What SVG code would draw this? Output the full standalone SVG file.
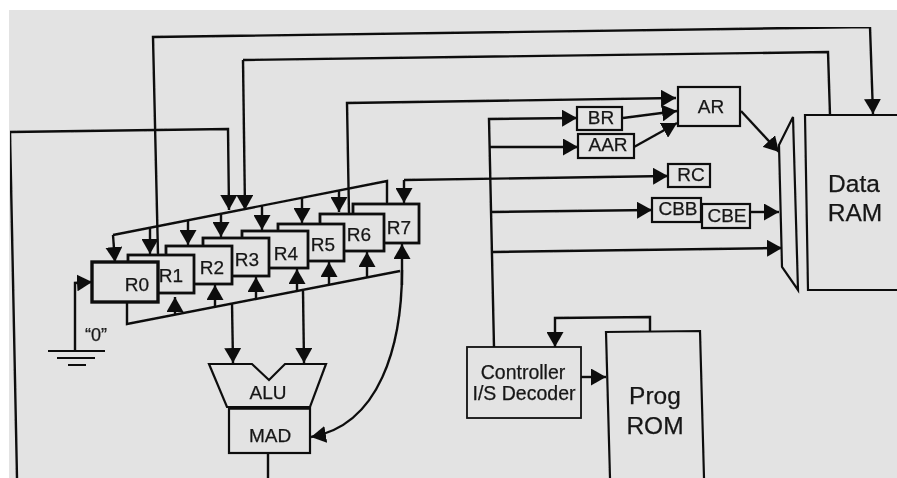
<svg xmlns="http://www.w3.org/2000/svg" width="897" height="478" viewBox="0 0 897 478">
<style>
.c{fill:none;stroke:#111;stroke-width:2.4}
.t{stroke-width:1.8}
.b{fill:#e3e3e3;stroke:#111;stroke-width:2.2}
.r{stroke-width:2.8}
.k{stroke-width:3.4}
text{font-family:"Liberation Sans",Arial,sans-serif;font-size:19px;fill:#161616;stroke:#161616;stroke-width:.25;text-anchor:middle}
.l{font-size:24.5px}
</style>
<defs>
<marker id="a" markerUnits="userSpaceOnUse" markerWidth="15" markerHeight="17" refX="15" refY="8.5" orient="auto"><path d="M0,0L15,8.5L0,17Z" fill="#111"/></marker>
<filter id="s" x="0" y="0" width="100%" height="100%"><feGaussianBlur stdDeviation="0.4"/></filter>
</defs>
<rect width="897" height="478" fill="#fff"/>
<rect x="9" y="10" width="888" height="468" fill="#e3e3e3"/>
<g filter="url(#s)">
<g id="connectors" class="c">
<path marker-end="url(#a)" d="M17,478L10,132L228,129L229,210"/>
<path marker-end="url(#a)" d="M158,255L153,37L870,27L873,114"/>
<path d="M830,115L828,52L243,60"/>
<path marker-end="url(#a)" d="M243,60L245,210"/>
<path marker-end="url(#a)" d="M349,214L347,103L676,98"/>
<path marker-end="url(#a)" d="M404,180L668,176"/>
<path marker-end="url(#a)" d="M404,180L404,203"/>
<path d="M113,235L387,181L387,204"/>
<path marker-end="url(#a)" d="M113,235L115,262"/>
<path marker-end="url(#a)" d="M150,228L150,254"/>
<path marker-end="url(#a)" d="M188,220L188,245"/>
<path marker-end="url(#a)" d="M221,214L221,237"/>
<path marker-end="url(#a)" d="M262,206L262,230"/>
<path marker-end="url(#a)" d="M302,198L302,223"/>
<path marker-end="url(#a)" d="M339,190L339,212"/>
<path d="M127,302L127,324L400,271"/>
<path marker-end="url(#a)" d="M175,315L175,297"/>
<path marker-end="url(#a)" d="M215,307L215,285"/>
<path marker-end="url(#a)" d="M256,299L256,277"/>
<path marker-end="url(#a)" d="M297,291L297,269"/>
<path marker-end="url(#a)" d="M329,285L329,262"/>
<path marker-end="url(#a)" d="M367,278L367,252"/>
<path marker-end="url(#a)" d="M402,285L402,244"/>
<path marker-end="url(#a)" d="M402,270C402,345 380,425 311,437"/>
<path marker-end="url(#a)" d="M232,303L233,363"/>
<path marker-end="url(#a)" d="M303,291L304,363"/>
<path d="M268,453L268,478"/>
<path marker-end="url(#a)" d="M75,350L75,283L92,282"/>
<path class="t" d="M48,351H105M57,358H95M68,365H86"/>
<path marker-end="url(#a)" d="M494,347L489,119L577,118"/>
<path marker-end="url(#a)" d="M490,147L578,147"/>
<path marker-end="url(#a)" d="M491,212L652,210"/>
<path marker-end="url(#a)" d="M493,252L782,248"/>
<path marker-end="url(#a)" d="M623,118L677,111"/>
<path marker-end="url(#a)" d="M634,147L677,123"/>
<path marker-end="url(#a)" d="M741,111L779,152"/>
<path marker-end="url(#a)" d="M750,212L779,212"/>
<path marker-end="url(#a)" d="M650,332L650,317L555,318L555,347"/>
<path marker-end="url(#a)" d="M581,377L606,377"/>
</g>
<g id="R7"><rect class="b r" x="353" y="204" width="66" height="39"/><text x="399" y="234">R7</text></g>
<g id="R6"><rect class="b r" x="320" y="214" width="64" height="37"/><text x="359" y="241">R6</text></g>
<g id="R5"><rect class="b r" x="278" y="224" width="66" height="37"/><text x="323" y="251">R5</text></g>
<g id="R4"><rect class="b r" x="242" y="231" width="66" height="37"/><text x="286" y="260">R4</text></g>
<g id="R3"><rect class="b r" x="203" y="238" width="66" height="38"/><text x="247" y="266">R3</text></g>
<g id="R2"><rect class="b r" x="166" y="246" width="66" height="38"/><text x="212" y="274">R2</text></g>
<g id="R1"><rect class="b r" x="128" y="255" width="66" height="38"/><text x="171" y="282">R1</text></g>
<g id="R0"><rect class="b k" x="92" y="262" width="66" height="40"/><text x="137" y="291">R0</text></g>
<text id="zero" x="96" y="341" style="font-size:18px">“0”</text>
<g id="ALU"><path class="b" d="M209,364H252L269,380L285,364H326L310,407H227Z"/><text x="268" y="399">ALU</text></g>
<g id="MAD"><rect class="b" x="229" y="408" width="81" height="45"/><path class="c k" d="M229,408H310"/><text x="270" y="442">MAD</text></g>
<g id="BR"><rect class="b" x="577" y="107" width="45" height="23"/><text x="601" y="124">BR</text></g>
<g id="AAR"><rect class="b" x="578" y="134" width="56" height="24"/><text x="608" y="151">AAR</text></g>
<g id="AR"><rect class="b" x="678" y="87" width="62" height="39"/><text x="711" y="113">AR</text></g>
<g id="RC"><rect class="b" x="668" y="164" width="42" height="23"/><text x="691" y="181">RC</text></g>
<g id="CBB"><rect class="b" x="652" y="198" width="49" height="24"/><text x="678" y="215">CBB</text></g>
<g id="CBE"><rect class="b" x="702" y="204" width="48" height="24"/><text x="727" y="222">CBE</text></g>
<g id="MUX"><path class="b" d="M793,117L798,290L782,267L779,145Z"/></g>
<g id="DataRAM"><path class="b" d="M897,115H805L808,290H897"/><text class="l" x="854" y="192">Data</text><text class="l" x="855" y="221">RAM</text></g>
<g id="Controller"><rect class="b" style="stroke-width:1.8" x="467" y="347" width="114" height="71"/><text x="523" y="379" style="font-size:19.5px">Controller</text><text x="524" y="400" style="font-size:19.5px">I/S Decoder</text></g>
<g id="ProgROM"><path class="b" d="M610,478L606,332L700,331L704,478"/><text class="l" x="655" y="404">Prog</text><text class="l" x="655" y="434">ROM</text></g>
</g>
</svg>
